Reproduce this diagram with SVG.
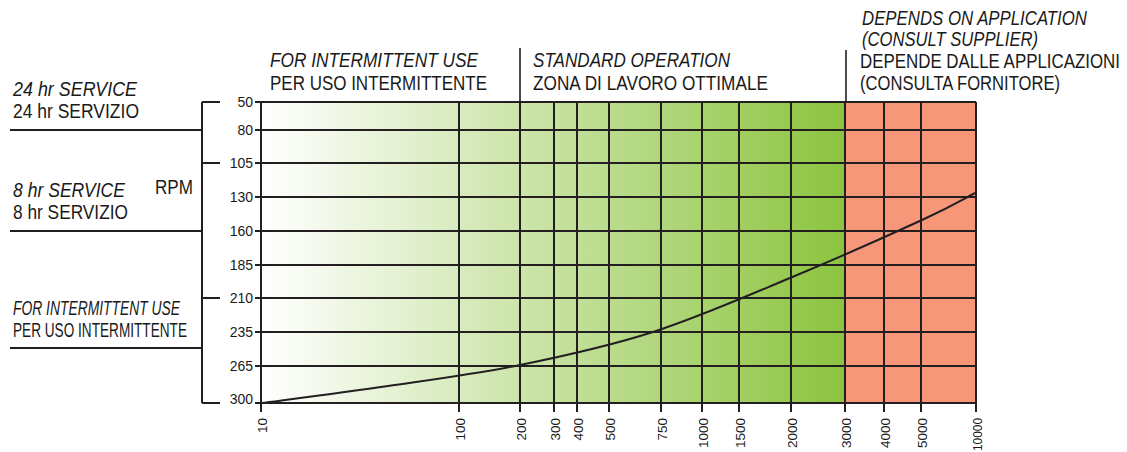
<svg xmlns="http://www.w3.org/2000/svg" width="1127" height="452" viewBox="0 0 1127 452">
<defs>
<linearGradient id="gr" x1="261" y1="0" x2="845" y2="0" gradientUnits="userSpaceOnUse">
<stop offset="0" stop-color="#ffffff"/>
<stop offset="1" stop-color="#8cc43f"/>
</linearGradient>
<style>
text{font-family:"Liberation Sans",Arial,sans-serif;fill:#1a1a1a}
.big{font-size:20px}
.top{font-size:21px}
.it{font-style:italic}
.num{font-size:14px}
.xn{font-size:13.5px}
.g{stroke:#231f20;stroke-width:2;fill:none}
.thin{stroke:#231f20;stroke-width:1.6;fill:none}
</style>
</defs>
<rect width="1127" height="452" fill="#ffffff"/>
<g id="zones">
<rect x="261" y="102" width="584" height="301" fill="url(#gr)"/>
<rect x="845" y="102" width="131" height="301" fill="#f6977a"/>
</g>
<g id="grid" class="g">
<path d="M255,102H976M255,130H976M255,163H976M255,197H976M255,231H976M255,265H976M255,298H976M255,332H976M255,366H976M255,403H976"/>
<path d="M261,102V412M459,102V412M520,102V412M554,102V412M577,102V412M609,102V412M661,102V412M702,102V412M739,102V412M791,102V412M845,102V412M884,102V412M921,102V412M976,102V412"/>
</g>
<g id="connectors">
<path class="g" d="M202,102V403M202,102H220M202,163H220M202,298H220M202,403H220M10,130H202M10,231H202M10,348H202"/>
<path class="thin" d="M520,48V102M846,50V102"/>
<path class="g" d="M262,403 C283,400.2 345,392.3 388,386 C431,379.7 475.8,374 520,365 C564.2,356 608,346.5 653,332 C698,317.5 745.2,296.7 790,278 C834.8,259.3 891.2,234.2 922,220 C952.8,205.8 966.2,197.5 975,193"/>
</g>
<g id="y-labels" class="num" text-anchor="end">
<text x="253" y="107">50</text>
<text x="253" y="135">80</text>
<text x="253" y="168">105</text>
<text x="253" y="202">130</text>
<text x="253" y="236">160</text>
<text x="253" y="270">185</text>
<text x="253" y="303">210</text>
<text x="253" y="337">235</text>
<text x="253" y="371">265</text>
<text x="253" y="404">300</text>
</g>
<g id="x-labels" class="xn" text-anchor="end">
<text transform="translate(266.5,418) rotate(-90)">10</text>
<text transform="translate(464.5,418) rotate(-90)">100</text>
<text transform="translate(525.5,418) rotate(-90)">200</text>
<text transform="translate(559.5,418) rotate(-90)">300</text>
<text transform="translate(582.5,418) rotate(-90)">400</text>
<text transform="translate(614.5,418) rotate(-90)">500</text>
<text transform="translate(666.5,418) rotate(-90)">750</text>
<text transform="translate(707.5,418) rotate(-90)">1000</text>
<text transform="translate(744.5,418) rotate(-90)">1500</text>
<text transform="translate(796.5,418) rotate(-90)">2000</text>
<text transform="translate(850.5,418) rotate(-90)">3000</text>
<text transform="translate(889.5,418) rotate(-90)">4000</text>
<text transform="translate(926.5,418) rotate(-90)">5000</text>
<text transform="translate(981.5,418) rotate(-90)" textLength="33" lengthAdjust="spacingAndGlyphs">10000</text>
</g>
<g id="service-24">
<text class="big it" x="13" y="96" textLength="124" lengthAdjust="spacingAndGlyphs">24 hr SERVICE</text>
<text class="big" x="13" y="118" textLength="126" lengthAdjust="spacingAndGlyphs">24 hr SERVIZIO</text>
</g>
<g id="service-8">
<text class="big it" x="13" y="197" textLength="112" lengthAdjust="spacingAndGlyphs">8 hr SERVICE</text>
<text class="big" x="13" y="219" textLength="115" lengthAdjust="spacingAndGlyphs">8 hr SERVIZIO</text>
</g>
<g id="rpm">
<text class="big" x="155" y="194" textLength="38" lengthAdjust="spacingAndGlyphs">RPM</text>
</g>
<g id="service-intermittent">
<text class="big it" x="13" y="315" textLength="167" lengthAdjust="spacingAndGlyphs">FOR INTERMITTENT USE</text>
<text class="big" x="13" y="337" textLength="174" lengthAdjust="spacingAndGlyphs">PER USO INTERMITTENTE</text>
</g>
<g id="zone-intermittent">
<text class="top it" x="270" y="67" textLength="208" lengthAdjust="spacingAndGlyphs">FOR INTERMITTENT USE</text>
<text class="top" x="270" y="90" textLength="217" lengthAdjust="spacingAndGlyphs">PER USO INTERMITTENTE</text>
</g>
<g id="zone-standard">
<text class="top it" x="533" y="67" textLength="197" lengthAdjust="spacingAndGlyphs">STANDARD OPERATION</text>
<text class="top" x="533" y="90" textLength="235" lengthAdjust="spacingAndGlyphs">ZONA DI LAVORO OTTIMALE</text>
</g>
<g id="zone-application">
<text class="top it" x="862" y="25" textLength="225" lengthAdjust="spacingAndGlyphs">DEPENDS ON APPLICATION</text>
<text class="top it" x="862" y="46" textLength="176" lengthAdjust="spacingAndGlyphs">(CONSULT SUPPLIER)</text>
<text class="top" x="860" y="68" textLength="260" lengthAdjust="spacingAndGlyphs">DEPENDE DALLE APPLICAZIONI</text>
<text class="top" x="860" y="90" textLength="200" lengthAdjust="spacingAndGlyphs">(CONSULTA FORNITORE)</text>
</g>
</svg>
